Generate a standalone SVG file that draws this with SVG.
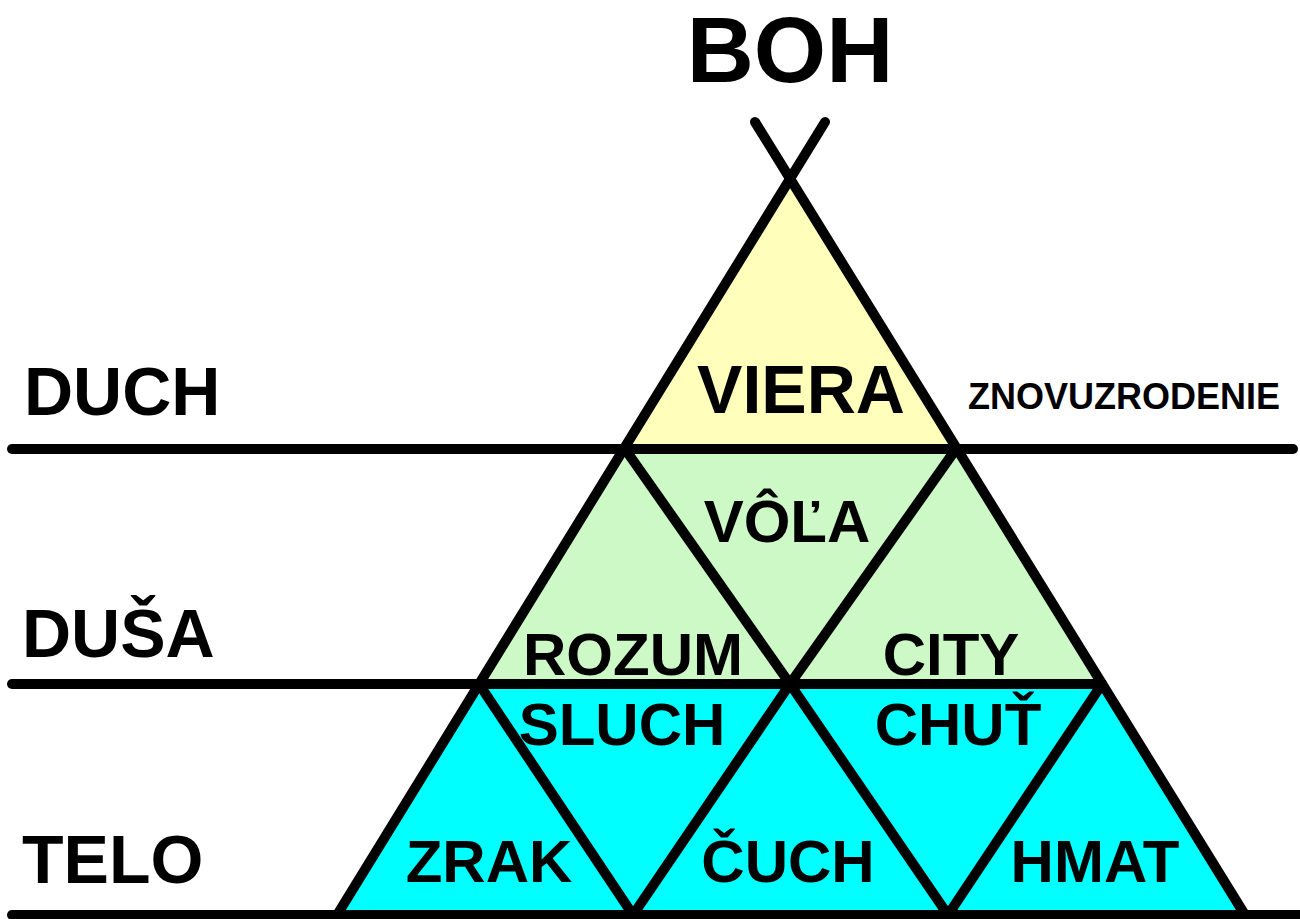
<svg xmlns="http://www.w3.org/2000/svg" width="1300" height="919" viewBox="0 0 1300 919">
<style>
.t{font-family:"Liberation Sans",Arial,sans-serif;font-weight:bold;fill:#000}
.ln{stroke:#000;stroke-width:10;stroke-linecap:round;stroke-linejoin:round;fill:none}
.big{font-size:68px}
.mid{font-size:60px}
</style>
<rect width="1300" height="919" fill="#fff"/>
<g id="fills">
<polygon points="790,178 625,449 956,449" fill="#FFFFBB"/>
<polygon points="625,449 956,449 1102,684 479,684" fill="#CCF9C5"/>
<polygon points="479,684 1102,684 1245,915 337,915" fill="#00FFFF"/>
</g>
<g id="connectors">
<line class="ln" x1="825" y1="122" x2="337" y2="915"/>
<line class="ln" x1="755" y1="122" x2="1245" y2="915"/>
<line class="ln" x1="12" y1="449" x2="1293" y2="449"/>
<line class="ln" x1="12" y1="684" x2="1101" y2="684"/>
<line class="ln" x1="12" y1="915" x2="1305" y2="915"/>
<polyline class="ln" points="625,449 790,684 956,449"/>
<polyline class="ln" points="479,684 633,915 790,684 948,915 1102,684"/>
</g>
<g id="boh"><text class="t" x="790" y="82" font-size="93" text-anchor="middle">BOH</text></g>
<g id="duch"><text class="t big" x="24" y="415">DUCH</text></g>
<g id="dusa"><text class="t big" x="22" y="657">DUŠA</text></g>
<g id="telo"><text class="t big" x="22" y="883">TELO</text></g>
<g id="viera"><text class="t big" x="801" y="413" text-anchor="middle">VIERA</text></g>
<g id="znovuzrodenie"><text class="t" x="968" y="409" font-size="36">ZNOVUZRODENIE</text></g>
<g id="vola"><text class="t mid" x="787" y="542" text-anchor="middle">VÔĽA</text></g>
<g id="rozum"><text class="t mid" x="633" y="675" text-anchor="middle">ROZUM</text></g>
<g id="city"><text class="t mid" x="951" y="675" text-anchor="middle">CITY</text></g>
<g id="sluch"><text class="t mid" x="622" y="745" text-anchor="middle">SLUCH</text></g>
<g id="chut"><text class="t mid" x="958" y="745" text-anchor="middle">CHUŤ</text></g>
<g id="zrak"><text class="t mid" x="489" y="882" text-anchor="middle">ZRAK</text></g>
<g id="cuch"><text class="t mid" x="788" y="882" text-anchor="middle">ČUCH</text></g>
<g id="hmat"><text class="t mid" x="1095" y="882" text-anchor="middle">HMAT</text></g>
</svg>
